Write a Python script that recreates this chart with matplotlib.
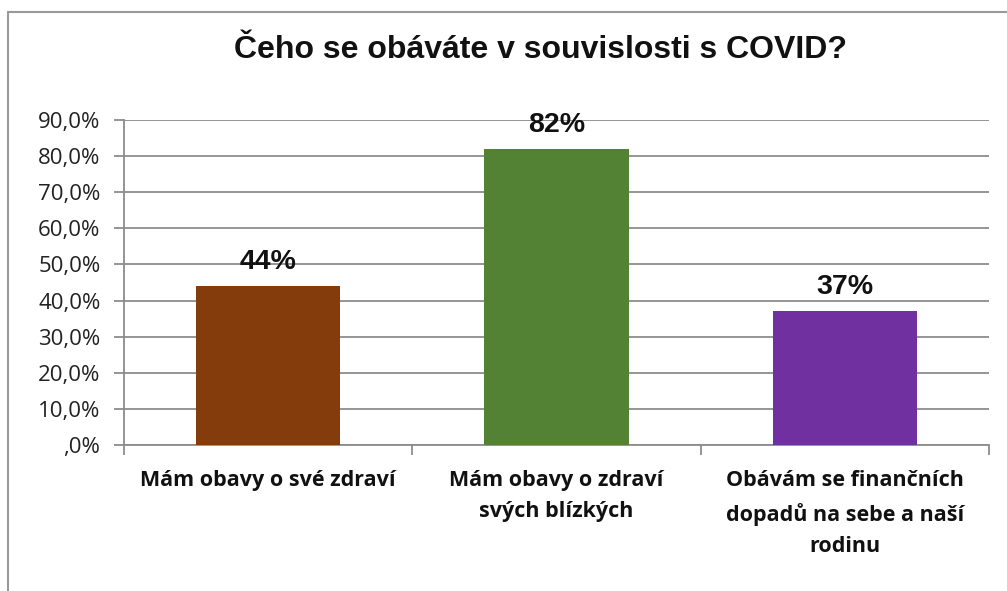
import matplotlib.pyplot as plt
from matplotlib.patches import Rectangle
from matplotlib.ticker import FuncFormatter, FixedLocator

# data
kategorie = ["Mám obavy o své zdraví",
             "Mám obavy o zdraví\nsvých blízkých",
             "Obávám se finančních\ndopadů na sebe a naší\nrodinu"]
hodnoty = [0.44, 0.82, 0.37]
popisky = ["44%", "82%", "37%"]
barvy = ["#843C0C", "#548235", "#7030A0"]
titulek = "Čeho se obáváte v souvislosti s COVID?"

seda = "#8C8C8C"

fig = plt.figure(figsize=(10.07, 5.91), dpi=100)
ax = fig.add_axes([124/1007, 1-445/591, (989-124)/1007, (445-120)/591])

x = range(len(kategorie))
ax.bar(x, hodnoty, width=0.5, color=barvy, zorder=3)

for xi, v, t in zip(x, hodnoty, popisky):
    ax.annotate(t, (xi, v), xytext=(0, 8), textcoords="offset points",
                ha="center", va="bottom", fontsize=20.5, fontweight="bold",
                family="Liberation Sans", color="#111111")

def fmt(v, p):
    s = ("%.1f%%" % (v*100)).replace(".", ",")
    return s.lstrip("0") if v == 0 else s

ax.set_xlim(-0.5, 2.5)
ax.set_ylim(0, 0.9)
ax.set_yticks([i/10 for i in range(10)])
ax.yaxis.set_major_formatter(FuncFormatter(fmt))
ax.grid(axis="y", color=seda, linewidth=1.3, zorder=0)

ax.set_xticks(list(x))
ax.set_xticklabels(kategorie, fontsize=15.5, fontweight="bold", family="Open Sans",
                   color="#111111", linespacing=1.65)
ax.xaxis.set_minor_locator(FixedLocator([-0.5, 0.5, 1.5, 2.5]))
ax.tick_params(axis="x", which="major", length=0, pad=18)
ax.tick_params(axis="x", which="minor", length=7, width=1.3, color=seda, direction="out")
ax.tick_params(axis="y", length=7, width=1.3, color=seda, pad=10)
for lab in ax.get_yticklabels():
    lab.set_family("Open Sans")
    lab.set_fontsize(16)
    lab.set_color("#222222")

for s in ["top", "right"]:
    ax.spines[s].set_visible(False)
for s in ["left", "bottom"]:
    ax.spines[s].set_color(seda)
    ax.spines[s].set_linewidth(1.3)

fig.text(540/1007, 1-50/591, titulek, ha="center", va="center",
         fontsize=23, fontweight="bold", family="Liberation Sans", color="#111111")

# okraj grafu
fig.patches.append(Rectangle((8/1007, -0.1), 1.2, 1-12/591+0.1,
                             transform=fig.transFigure, fill=False,
                             edgecolor="#999999", linewidth=1.5))

fig.savefig("out.png", dpi=100)
